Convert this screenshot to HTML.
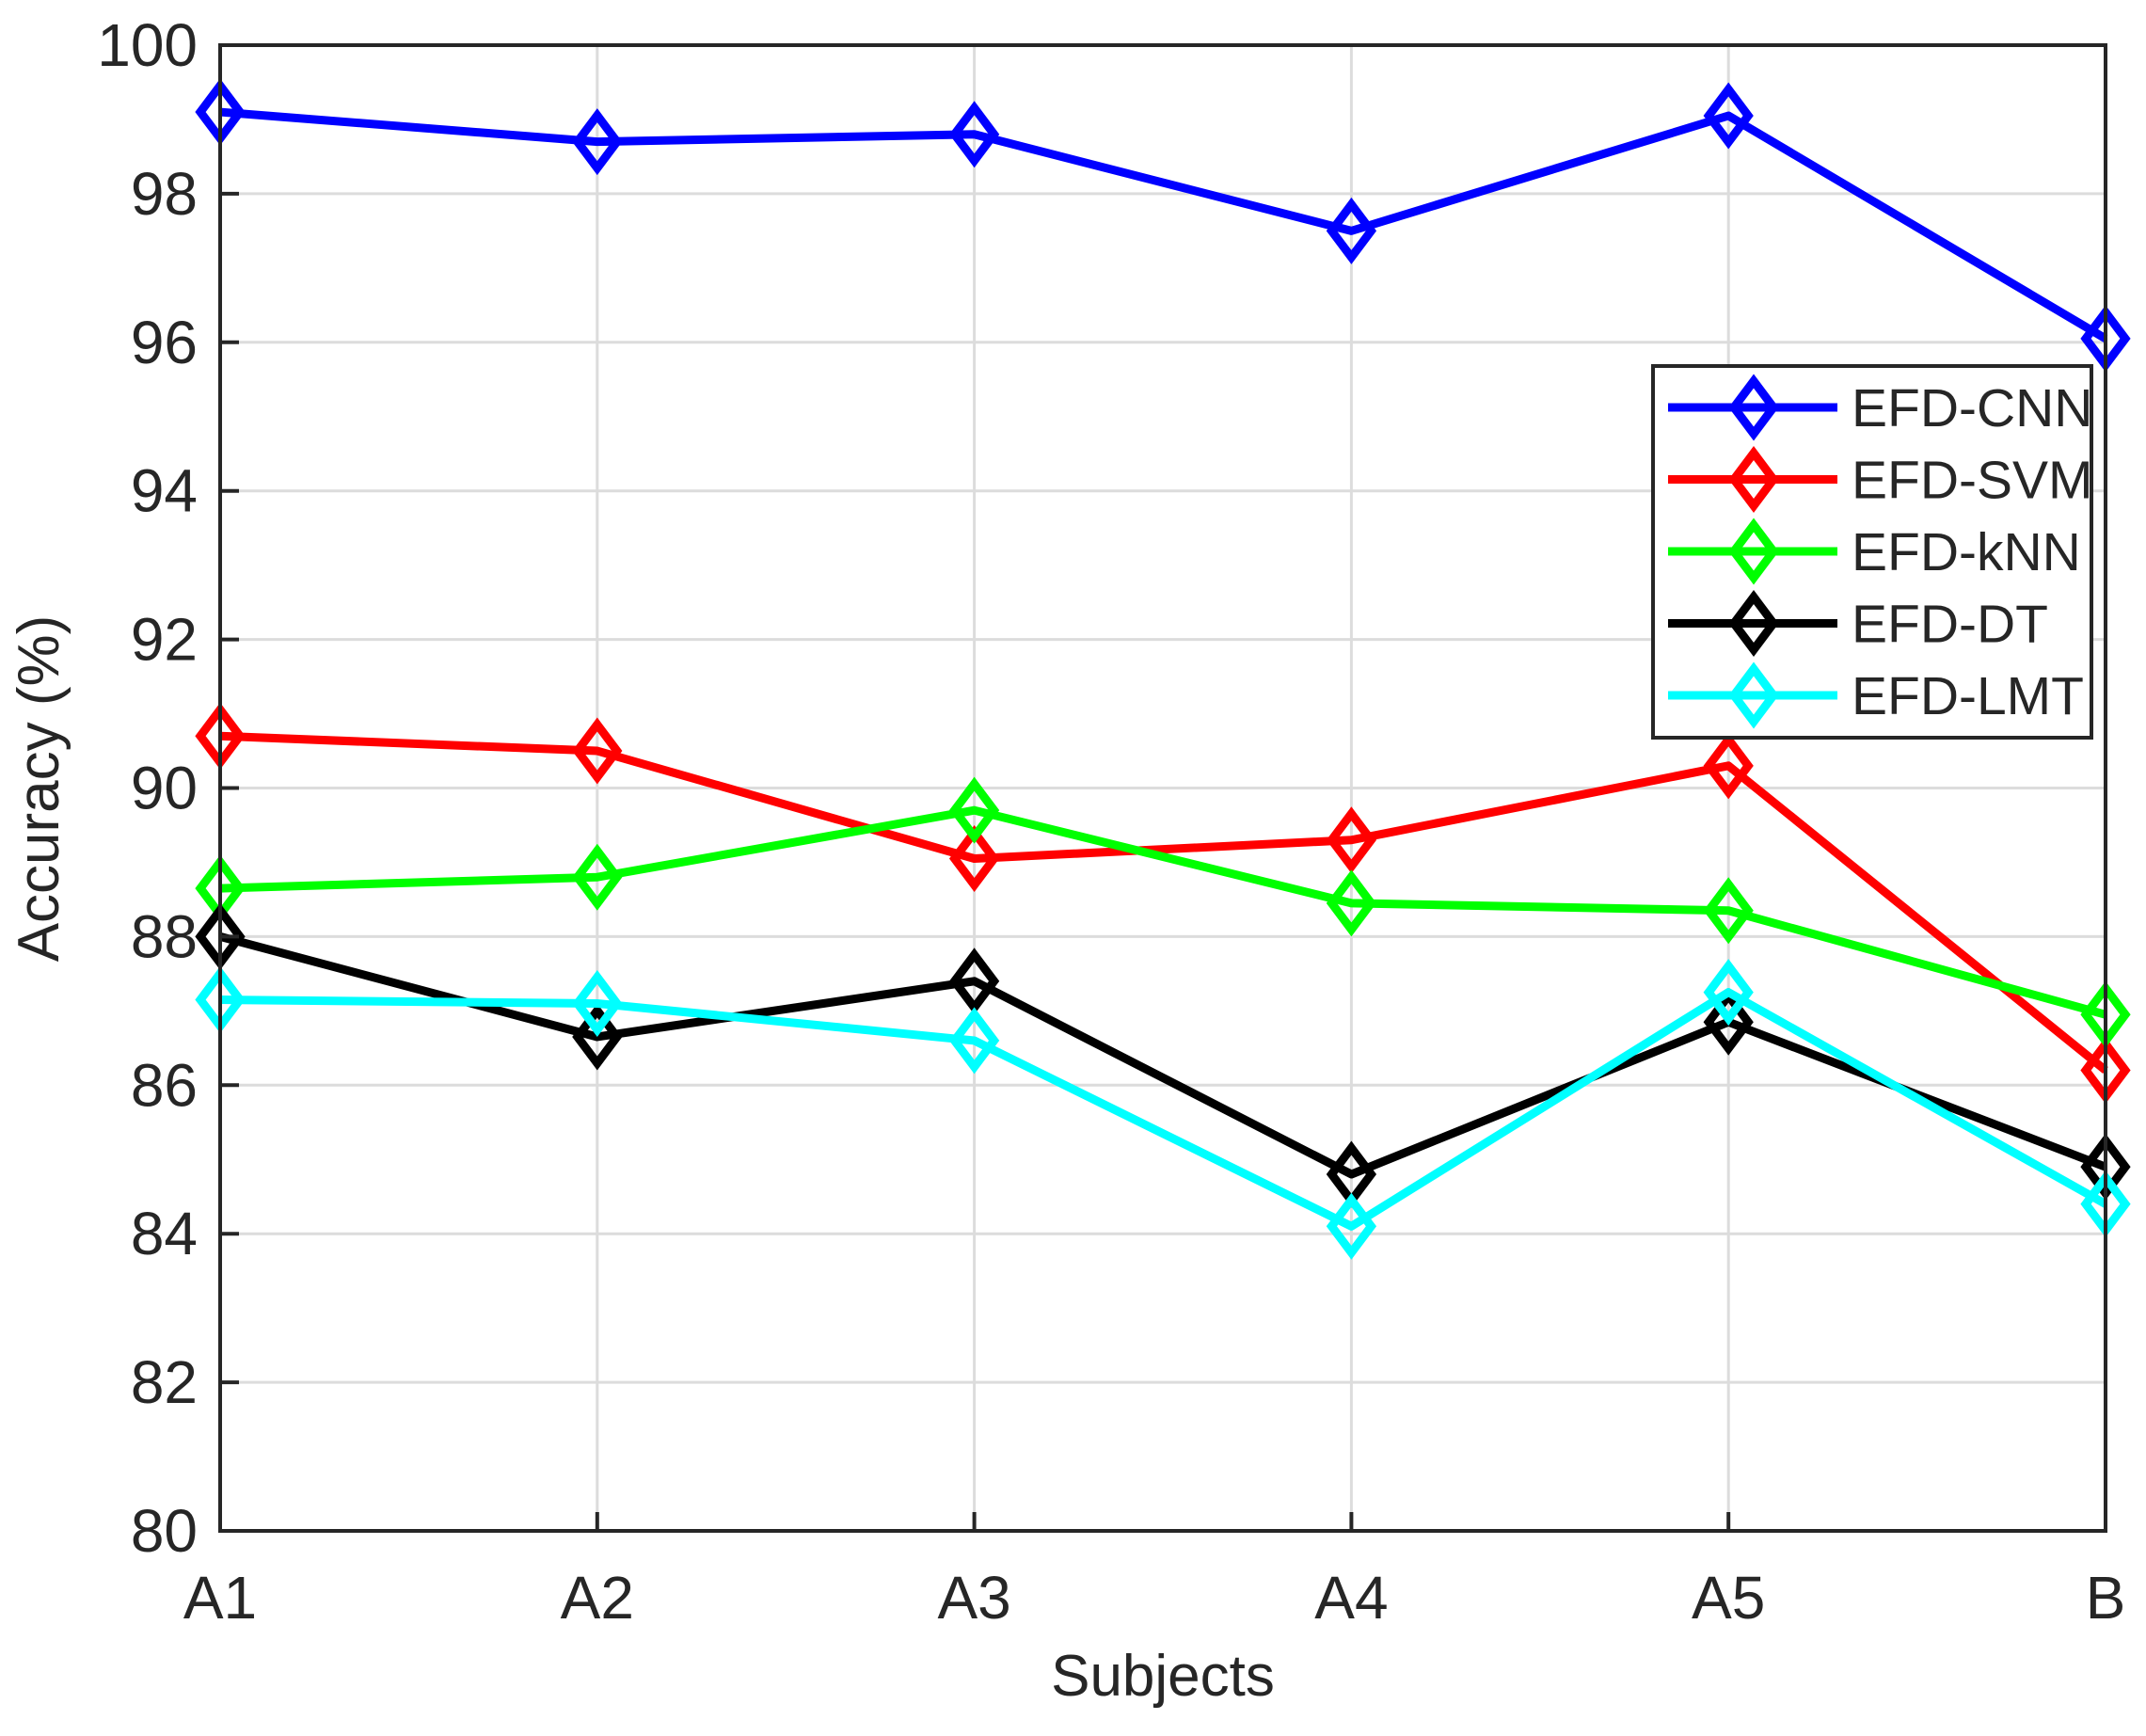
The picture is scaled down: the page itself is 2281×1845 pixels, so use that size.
<!DOCTYPE html>
<html><head><meta charset="utf-8"><style>
html,body{margin:0;padding:0;background:#fff;}
svg text{font-family:"Liberation Sans",Arial,sans-serif;fill:#262626;}
</style></head><body>
<svg id="chart" width="2281" height="1840" viewBox="0 0 2281 1840" xmlns="http://www.w3.org/2000/svg">
<rect width="2281" height="1840" fill="#fff"/>
<g id="grid"></g>
<g id="series"></g>
<rect x="234" y="48" width="2004" height="1579" fill="none" stroke="#262626" stroke-width="4"/>
<g id="ticks"></g>
<text x="1236" y="1802" font-size="62" text-anchor="middle">Subjects</text>
<text x="0" y="0" font-size="62" text-anchor="middle" transform="translate(62,838) rotate(-90)">Accuracy (%)</text>
<g id="legend"></g>
</svg>
<script>
const categories = ["A1","A2","A3","A4","A5","B"];
const yTicks = [80,82,84,86,88,90,92,94,96,98,100];
const seriesNames = ["EFD-CNN","EFD-SVM","EFD-kNN","EFD-DT","EFD-LMT"];
const seriesColors = ["#0000ff","#ff0000","#00ff00","#000000","#00ffff"];
const cnn = [99.1, 98.7, 98.8, 97.5, 99.05, 96.05];
const svm = [90.7, 90.5, 89.05, 89.3, 90.3, 86.2];
const knn = [88.65, 88.8, 89.7, 88.45, 88.35, 86.95];
const dt  = [88.0, 86.65, 87.4, 84.8, 86.85, 84.9];
const lmt = [87.15, 87.1, 86.6, 84.1, 87.25, 84.4];
const allSeries = [cnn, svm, knn, dt, lmt];

const NS = "http://www.w3.org/2000/svg";
const X0 = 234, X1 = 2238, Y0 = 1627, Y1 = 48;
function xScale(i){ return X0 + (X1 - X0) * i / (categories.length - 1); }
function yScale(v){ return Y0 - (v - 80) / 20 * (Y0 - Y1); }
function mk(tag, attrs, parent){ const e = document.createElementNS(NS, tag); for (const k in attrs) e.setAttribute(k, attrs[k]); parent.appendChild(e); return e; }

const grid = document.getElementById('grid');
const ticks = document.getElementById('ticks');
yTicks.forEach(t => {
  const y = yScale(t);
  if (t > 80 && t < 100) {
    const g = mk('line', {x1:X0, x2:X1, y1:y, y2:y, stroke:'#dcdcdc', 'stroke-width':3}, grid);
    
    
  }
  const tk = mk('line', {x1:X0, x2:X0+20, y1:y, y2:y, stroke:'#262626', 'stroke-width':4}, ticks);
  
  
  const tx = mk('text', {x:X0-24, y:y+22, 'font-size':64, 'text-anchor':'end'}, ticks);
  tx.textContent = t;
  
  
});
categories.forEach((c, i) => {
  const x = xScale(i);
  if (i > 0 && i < categories.length - 1) {
    const g = mk('line', {x1:x, x2:x, y1:Y0, y2:Y1, stroke:'#dcdcdc', 'stroke-width':3}, grid);
    
    
  }
  const tk = mk('line', {x1:x, x2:x, y1:Y0, y2:Y0-20, stroke:'#262626', 'stroke-width':4}, ticks);
  
  
  const tx = mk('text', {x:x, y:1720, 'font-size':64, 'text-anchor':'middle'}, ticks);
  tx.textContent = c;
  
  
});

function diamond(x, y){ return `M${x},${y-28} L${x+21},${y} L${x},${y+28} L${x-21},${y} Z`; }
const sg = document.getElementById('series');
allSeries.forEach((vals, s) => {
  const col = seriesColors[s];
  const pts = vals.map((v, i) => xScale(i) + ',' + yScale(v)).join(' ');
  const pl = mk('polyline', {points:pts, fill:'none', stroke:col, 'stroke-width':9, 'stroke-linejoin':'round'}, sg);
  
  
  vals.forEach((v, i) => {
    const m = mk('path', {d:diamond(xScale(i), yScale(v)), fill:'none', stroke:col, 'stroke-width':9}, sg);
    
    
  });
});

const lg = document.getElementById('legend');
const box = mk('rect', {x:1757, y:389, width:466, height:395, fill:'#fff', stroke:'#262626', 'stroke-width':4}, lg);


seriesNames.forEach((n, s) => {
  const y = 433 + s * 76.5;
  const col = seriesColors[s];
  const l = mk('line', {x1:1773, x2:1953, y1:y, y2:y, stroke:col, 'stroke-width':9}, lg);
  
  
  const m = mk('path', {d:diamond(1864, y), fill:'none', stroke:col, 'stroke-width':9}, lg);
  
  
  const t = mk('text', {x:1968, y:y+20, 'font-size':57, fill:'#000'}, lg);
  t.textContent = n;
  
  
});
</script>
</body></html>
